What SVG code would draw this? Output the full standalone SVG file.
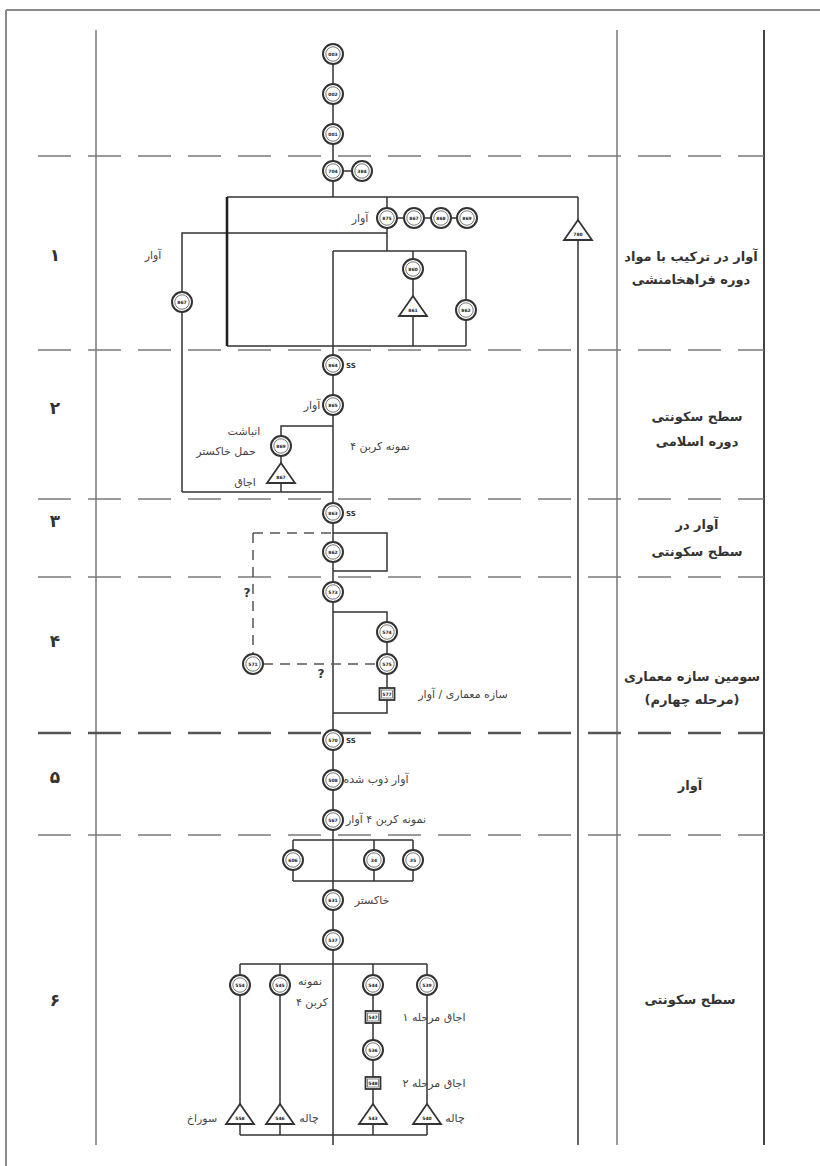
<svg xmlns="http://www.w3.org/2000/svg" xmlns:xlink="http://www.w3.org/1999/xlink" width="820" height="1166" viewBox="0 0 820 1166">
<style>
.fr{stroke:#8a8a8a;stroke-width:2;fill:none}
.col{stroke:#9a9a9a;stroke-width:2;fill:none}
.colD{stroke:#444;stroke-width:2;fill:none}
.sep{stroke:#7a7a7a;stroke-width:1.6;stroke-dasharray:33 17;fill:none}
.sepT{stroke:#555;stroke-width:2.6;stroke-dasharray:33 17;fill:none}
.ln{stroke:#333;stroke-width:1.5;fill:none}
.lnT{stroke:#222;stroke-width:2.6;fill:none}
.dsh{stroke:#555;stroke-width:1.5;stroke-dasharray:10 7;fill:none}
.ro{fill:#fff;stroke:#333;stroke-width:2}
.ri{fill:none;stroke:#555;stroke-width:0.8}
.tr{fill:#fff;stroke:#333;stroke-width:1.8}
.bx{fill:#fff;stroke:#333;stroke-width:1.8}
.bi{fill:none;stroke:#555;stroke-width:0.7}
.nt{font-family:"DejaVu Sans",sans-serif;font-size:4.5px;font-weight:bold;fill:#222;text-anchor:middle}
.lb{font-family:"DejaVu Sans",sans-serif;font-size:11px;fill:#444;text-anchor:middle}
.sl{font-family:"DejaVu Sans",sans-serif;font-size:13px;font-weight:bold;fill:#333;text-anchor:middle}
.num{font-family:"DejaVu Sans",sans-serif;font-size:17px;font-weight:bold;fill:#333;text-anchor:middle}
.ss{font-family:"DejaVu Sans",sans-serif;font-size:7px;font-weight:bold;fill:#333}
.q{font-family:"DejaVu Sans",sans-serif;font-size:12px;font-weight:bold;fill:#333;text-anchor:middle}
</style>
<defs>
<g id="ring"><circle r="10" class="ro"/><circle r="7.2" class="ri"/></g>
<g id="tri"><polygon points="0,-11 -14,9 14,9" class="tr"/></g>
<g id="box"><rect x="-7.5" y="-6" width="15" height="12" class="bx"/><rect x="-5.5" y="-4" width="11" height="8" class="bi"/></g>
</defs>

<g id="frame">
<path class="fr" d="M6,10 H820 M6,10 V1166"/>
<path class="col" d="M96,30 V1145 M617,30 V1145"/>
<path class="colD" d="M764,30 V1145"/>
<path class="sep" d="M38,156 H764 M38,350 H764 M38,499 H764 M38,577 H764 M38,835 H764"/>
<path class="sepT" d="M38,733 H764"/>
</g>

<g id="phase-labels">
<text class="num" x="55" y="261">۱</text>
<text class="num" x="55" y="414">۲</text>
<text class="num" x="55" y="527">۳</text>
<text class="num" x="55" y="647">۴</text>
<text class="num" x="55" y="783">۵</text>
<text class="num" x="55" y="1006">۶</text>
<text class="sl" x="691" y="261" direction="rtl">آوار در ترکیب با مواد</text>
<text class="sl" x="691" y="284" direction="rtl">دوره فراهخامنشی</text>
<text class="sl" x="697" y="421" direction="rtl">سطح سکونتی</text>
<text class="sl" x="697" y="446" direction="rtl">دوره اسلامی</text>
<text class="sl" x="697" y="529" direction="rtl">آوار در</text>
<text class="sl" x="697" y="556" direction="rtl">سطح سکونتی</text>
<text class="sl" x="692" y="681" direction="rtl">سومین سازه معماری</text>
<text class="sl" x="692" y="704" direction="rtl">(مرحله چهارم)</text>
<text class="sl" x="690" y="790" direction="rtl">آوار</text>
<text class="sl" x="690" y="1004" direction="rtl">سطح سکونتی</text>
</g>

<g id="connectors">
<path class="ln" d="M333,54 V197 M333,171 H362"/>
<path class="ln" d="M227,197 H578 M387,197 V251 M387,218 H467 M387,233 H182 V492 M333,251 H466 M413,251 V346 M466,251 V346 M227,346 H466"/>
<path class="lnT" d="M227,197 V346"/>
<path class="ln" d="M578,197 V1145"/>
<path class="ln" d="M333,251 V1145"/>
<path class="ln" d="M333,426 H281 V492 M182,492 H333"/>
<path class="dsh" d="M253,533 H333 M253,533 V654 M263,664 H377"/>
<path class="ln" d="M333,533 H387 V571 H333"/>
<path class="ln" d="M333,612 H387 V713 H333"/>
<path class="ln" d="M293,840 H413 M293,881 H413 M293,840 V881 M374,840 V881 M413,840 V881"/>
<path class="ln" d="M240,964 H427 M240,964 V1135 M280,964 V1135 M373,964 V1135 M427,964 V1135 M240,1135 H427"/>
</g>

<g id="n-top1"><use xlink:href="#ring" x="333" y="54"/><text class="nt" x="333" y="55.6">003</text></g>
<g id="n-top2"><use xlink:href="#ring" x="333" y="94"/><text class="nt" x="333" y="95.6">002</text></g>
<g id="n-top3"><use xlink:href="#ring" x="333" y="134"/><text class="nt" x="333" y="135.6">001</text></g>
<g id="n-a1"><use xlink:href="#ring" x="333" y="171"/><text class="nt" x="333" y="172.6">704</text></g>
<g id="n-a2"><use xlink:href="#ring" x="362" y="171"/><text class="nt" x="362" y="172.6">384</text></g>
<g id="n-r1"><use xlink:href="#ring" x="387" y="218"/><text class="nt" x="387" y="219.6">875</text></g>
<g id="n-r2"><use xlink:href="#ring" x="414" y="218"/><text class="nt" x="414" y="219.6">867</text></g>
<g id="n-r3"><use xlink:href="#ring" x="441" y="218"/><text class="nt" x="441" y="219.6">868</text></g>
<g id="n-r4"><use xlink:href="#ring" x="467" y="218"/><text class="nt" x="467" y="219.6">869</text></g>
<g id="n-b1"><use xlink:href="#ring" x="182" y="302"/><text class="nt" x="182" y="303.6">867</text></g>
<g id="n-b2"><use xlink:href="#ring" x="413" y="269"/><text class="nt" x="413" y="270.6">860</text></g>
<g id="n-b3"><use xlink:href="#tri" x="413" y="307"/><text class="nt" x="413" y="312">861</text></g>
<g id="n-b4"><use xlink:href="#ring" x="466" y="310"/><text class="nt" x="466" y="311.6">862</text></g>
<g id="n-t1"><use xlink:href="#tri" x="578" y="231"/><text class="nt" x="578" y="236">780</text></g>

<g id="n-s2a"><use xlink:href="#ring" x="333" y="365"/><text class="nt" x="333" y="366.6">864</text></g>
<text class="ss" x="346" y="368">SS</text>
<g id="n-s2b"><use xlink:href="#ring" x="333" y="405"/><text class="nt" x="333" y="406.6">865</text></g>
<g id="n-s2c"><use xlink:href="#ring" x="281" y="446"/><text class="nt" x="281" y="447.6">869</text></g>
<g id="n-s2d"><use xlink:href="#tri" x="281" y="474"/><text class="nt" x="281" y="479">867</text></g>
<text class="lb" x="360" y="222" direction="rtl">آوار</text>
<text class="lb" x="153" y="259" direction="rtl">آوار</text>
<text class="lb" x="312" y="409" direction="rtl">آوار</text>
<text class="lb" x="244" y="435" direction="rtl">انباشت</text>
<text class="lb" x="226" y="455" direction="rtl">حمل خاکستر</text>
<text class="lb" x="245" y="486" direction="rtl">اجاق</text>
<text class="lb" x="380" y="450" direction="rtl">نمونه کربن ۴</text>

<g id="n-s3a"><use xlink:href="#ring" x="333" y="513"/><text class="nt" x="333" y="514.6">863</text></g>
<text class="ss" x="346" y="516">SS</text>
<g id="n-s3b"><use xlink:href="#ring" x="333" y="552"/><text class="nt" x="333" y="553.6">862</text></g>

<g id="n-s4a"><use xlink:href="#ring" x="333" y="592"/><text class="nt" x="333" y="593.6">573</text></g>
<g id="n-s4b"><use xlink:href="#ring" x="387" y="632"/><text class="nt" x="387" y="633.6">574</text></g>
<g id="n-s4c"><use xlink:href="#ring" x="387" y="664"/><text class="nt" x="387" y="665.6">575</text></g>
<g id="n-s4d"><use xlink:href="#box" x="387" y="694"/><text class="nt" x="387" y="695.6">577</text></g>
<g id="n-s4e"><use xlink:href="#ring" x="253" y="664"/><text class="nt" x="253" y="665.6">571</text></g>
<text class="q" x="247" y="597">?</text>
<text class="q" x="321" y="678">?</text>
<text class="lb" x="463" y="698" direction="rtl">سازه معماری / آوار</text>

<g id="n-s5a"><use xlink:href="#ring" x="333" y="740"/><text class="nt" x="333" y="741.6">570</text></g>
<text class="ss" x="346" y="743">SS</text>
<g id="n-s5b"><use xlink:href="#ring" x="333" y="780"/><text class="nt" x="333" y="781.6">508</text></g>
<g id="n-s5c"><use xlink:href="#ring" x="333" y="820"/><text class="nt" x="333" y="821.6">567</text></g>
<text class="lb" x="376" y="783" direction="rtl">آوار ذوب شده</text>
<text class="lb" x="386" y="823" direction="rtl">نمونه کربن ۴ آوار</text>

<g id="n-s6a"><use xlink:href="#ring" x="293" y="860"/><text class="nt" x="293" y="861.6">606</text></g>
<g id="n-s6b"><use xlink:href="#ring" x="374" y="860"/><text class="nt" x="374" y="861.6">34</text></g>
<g id="n-s6c"><use xlink:href="#ring" x="413" y="860"/><text class="nt" x="413" y="861.6">35</text></g>
<g id="n-s6d"><use xlink:href="#ring" x="333" y="900"/><text class="nt" x="333" y="901.6">631</text></g>
<text class="lb" x="372" y="904" direction="rtl">خاکستر</text>
<g id="n-s6e"><use xlink:href="#ring" x="333" y="940"/><text class="nt" x="333" y="941.6">537</text></g>
<g id="n-s6f"><use xlink:href="#ring" x="240" y="985"/><text class="nt" x="240" y="986.6">554</text></g>
<g id="n-s6g"><use xlink:href="#ring" x="280" y="985"/><text class="nt" x="280" y="986.6">545</text></g>
<g id="n-s6h"><use xlink:href="#ring" x="373" y="985"/><text class="nt" x="373" y="986.6">544</text></g>
<g id="n-s6i"><use xlink:href="#ring" x="427" y="985"/><text class="nt" x="427" y="986.6">539</text></g>
<g id="n-s6j"><use xlink:href="#box" x="373" y="1017"/><text class="nt" x="373" y="1018.6">547</text></g>
<g id="n-s6k"><use xlink:href="#ring" x="373" y="1050"/><text class="nt" x="373" y="1051.6">536</text></g>
<g id="n-s6l"><use xlink:href="#box" x="373" y="1083"/><text class="nt" x="373" y="1084.6">548</text></g>
<g id="n-s6m"><use xlink:href="#tri" x="240" y="1115"/><text class="nt" x="240" y="1120">558</text></g>
<g id="n-s6n"><use xlink:href="#tri" x="280" y="1115"/><text class="nt" x="280" y="1120">546</text></g>
<g id="n-s6o"><use xlink:href="#tri" x="373" y="1115"/><text class="nt" x="373" y="1120">543</text></g>
<g id="n-s6p"><use xlink:href="#tri" x="427" y="1115"/><text class="nt" x="427" y="1120">540</text></g>
<text class="lb" x="310" y="985" direction="rtl">نمونه</text>
<text class="lb" x="312" y="1006" direction="rtl">کربن ۴</text>
<text class="lb" x="434" y="1021" direction="rtl">اجاق مرحله ۱</text>
<text class="lb" x="434" y="1087" direction="rtl">اجاق مرحله ۲</text>
<text class="lb" x="202" y="1122" direction="rtl">سوراخ</text>
<text class="lb" x="309" y="1122" direction="rtl">چاله</text>
<text class="lb" x="455" y="1122" direction="rtl">چاله</text>
</svg>
